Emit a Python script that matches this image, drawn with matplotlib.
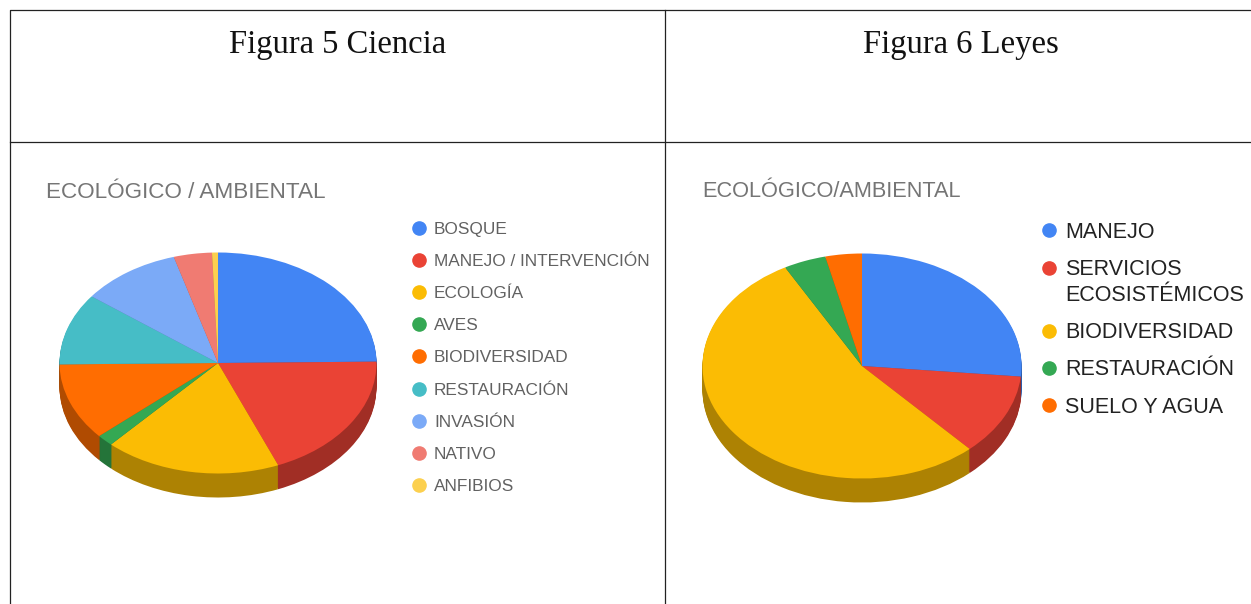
import matplotlib
matplotlib.use("Agg")
import matplotlib.pyplot as plt
from matplotlib.colors import to_rgb
from matplotlib.lines import Line2D
from matplotlib.markers import MarkerStyle
from matplotlib.transforms import Affine2D

W, H = 1251, 604

# Figura 5
ciencia_labels = ["BOSQUE", "MANEJO / INTERVENCIÓN", "ECOLOGÍA", "AVES", "BIODIVERSIDAD",
                  "RESTAURACIÓN", "INVASIÓN", "NATIVO", "ANFIBIOS"]
ciencia_values = [24.8, 19.0, 18.0, 1.7, 11.3, 10.5, 10.2, 3.9, 0.6]
ciencia_colors = ["#4285F4", "#EA4335", "#FBBC04", "#34A853", "#FF6D01",
                  "#46BDC6", "#7BAAF7", "#F07B72", "#FCD04F"]

# Figura 6
leyes_labels = ["MANEJO", "SERVICIOS\nECOSISTÉMICOS", "BIODIVERSIDAD", "RESTAURACIÓN", "SUELO Y AGUA"]
leyes_values = [26.5, 11.7, 53.8, 4.3, 3.7]
leyes_colors = ["#4285F4", "#EA4335", "#FBBC04", "#34A853", "#FF6D01"]


def darker(color, k=0.69):
    return tuple(c * k for c in to_rgb(color))


def pie_3d(fig, values, colors, cx, cy, rx, ry, depth):
    # axes box is set in pixels so that the unit circle becomes the ellipse
    pad = 4
    left = (cx - rx - pad) / W
    bottom = (H - (cy + ry + depth + pad)) / H
    ax = fig.add_axes([left, bottom, (2 * rx + 2 * pad) / W, (2 * ry + depth + 2 * pad) / H])
    for px in range(depth, 0, -1):
        ax.pie(values, colors=[darker(c) for c in colors], startangle=90, counterclock=False,
               center=(0, -px / ry), wedgeprops={"linewidth": 0})
    ax.pie(values, colors=colors, startangle=90, counterclock=False,
           wedgeprops={"linewidth": 0})
    ax.set_aspect("auto")
    ax.set_xlim(-1 - pad / rx, 1 + pad / rx)
    ax.set_ylim(-1 - (depth + pad) / ry, 1 + pad / ry)
    return ax


def add_legend(fig, labels, colors, x, y, size, color, spacing, textpad, marker):
    handles = []
    for label, c in zip(labels, colors):
        # the dot of a wrapped label sits on its first line
        lift = 1.14 if "\n" in label else 0
        style = MarkerStyle("o", transform=Affine2D().translate(0, lift))
        handles.append(Line2D([], [], linestyle="none", marker=style, markersize=marker,
                              markerfacecolor=c, markeredgecolor=c))
    leg = fig.legend(handles, labels, loc="upper left", bbox_to_anchor=(x / W, 1 - y / H),
                     frameon=False, labelcolor=color, borderpad=0, borderaxespad=0,
                     labelspacing=spacing, handlelength=0.7, handletextpad=textpad,
                     prop={"family": "Liberation Sans", "size": size})
    for t in leg.get_texts():
        t.set_linespacing(1.27)
    return leg


fig = plt.figure(figsize=(W / 100, H / 100), dpi=100, facecolor="white")

pie_3d(fig, ciencia_values, ciencia_colors, 218, 363, 158.5, 110.5, 24)
pie_3d(fig, leyes_values, leyes_colors, 862, 366, 159.5, 112.5, 24)

# table grid and texts, in image pixels
page = fig.add_axes([0, 0, 1, 1], facecolor="none")
page.set_xlim(0, W)
page.set_ylim(H, 0)
page.axis("off")
page.plot([W, 10, 10], [10, 10, H], color="#222222", lw=0.9)
page.plot([10, W], [142, 142], color="#222222", lw=0.9)
page.plot([665, 665], [10, H], color="#222222", lw=0.9)

page.text(338, 45, "Figura 5 Ciencia", family="Liberation Serif", fontsize=23.5,
          color="#111111", ha="center", va="center")
page.text(961, 45, "Figura 6 Leyes", family="Liberation Serif", fontsize=23.5,
          color="#111111", ha="center", va="center")
page.text(46, 192.5, "ECOLÓGICO / AMBIENTAL", family="Liberation Sans", fontsize=16.2,
          color="#757575", ha="left", va="center")
page.text(702, 191.5, "ECOLÓGICO/AMBIENTAL", family="Liberation Sans", fontsize=15.7,
          color="#757575", ha="left", va="center")

add_legend(fig, ciencia_labels, ciencia_colors, 413, 222, 12.4, "#616161", 0.99, 0.52, 9.5)
add_legend(fig, leyes_labels, leyes_colors, 1041, 222, 15.5, "#222222", 0.76, 0.41, 9.5)

fig.savefig("out.png", dpi=100)
